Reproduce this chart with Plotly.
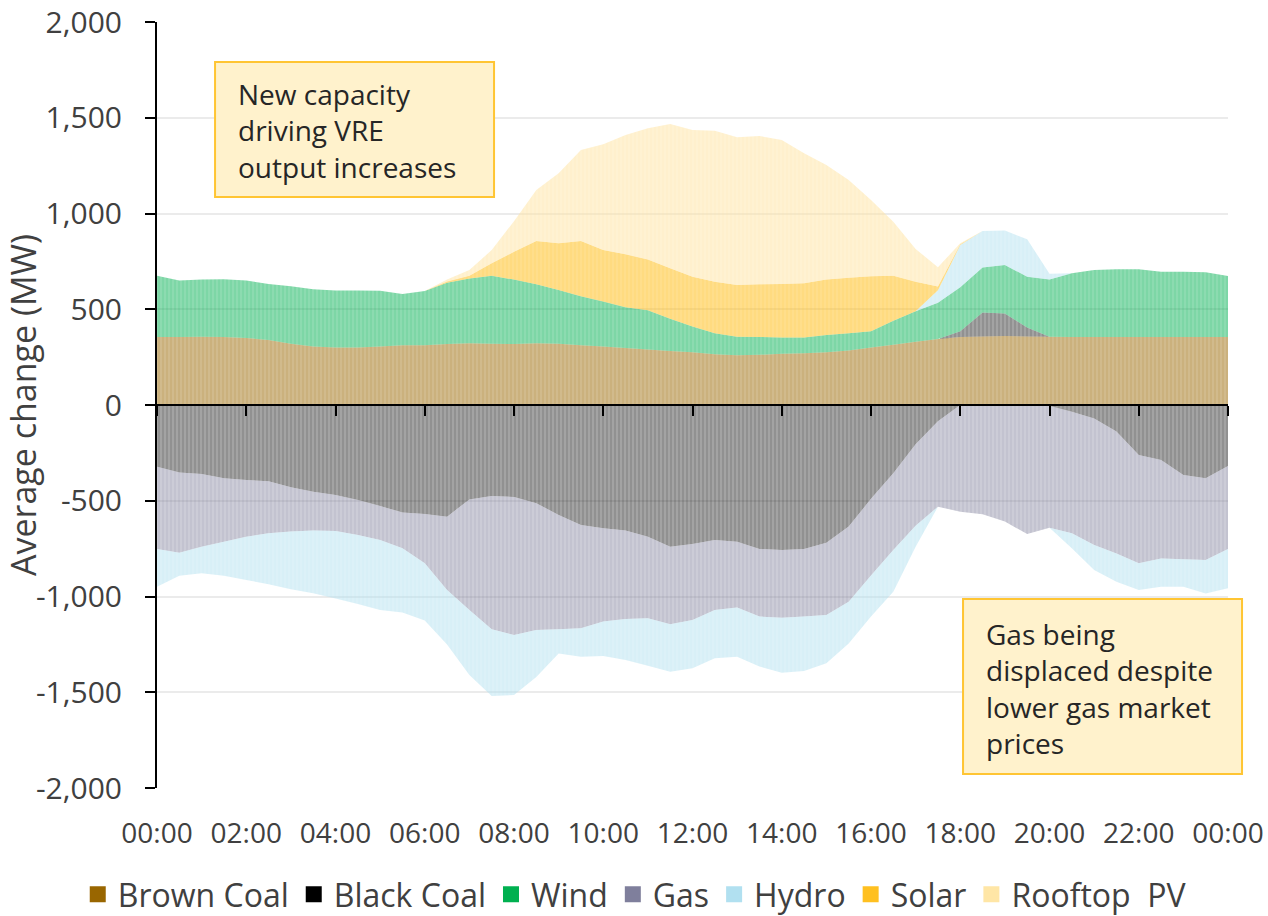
import numpy as np
import plotly.graph_objects as go

# ---- Data (half-hourly, 00:00 .. 24:00), MW average change ----
hours = [i * 0.5 for i in range(49)]
tick_hours = list(range(0, 25, 2))
tick_labels = ["00:00", "02:00", "04:00", "06:00", "08:00", "10:00", "12:00",
               "14:00", "16:00", "18:00", "20:00", "22:00", "00:00"]
y_ticks = [-2000, -1500, -1000, -500, 0, 500, 1000, 1500, 2000]

brown_coal = [355, 355, 357, 355, 350, 340, 320, 305, 300, 300, 305, 312, 312,
              318, 322, 320, 318, 322, 320, 312, 305, 298, 290, 282, 275,
              265, 260, 262, 268, 270, 275, 285, 300, 315, 330, 345, 355,
              358, 360, 358, 356, 355, 355, 355, 355, 355, 355, 355, 355]
black_coal = [-322, -353, -360, -383, -392, -398, -430, -453, -470, -496, -527, -562, -569,
              -583, -493, -475, -480, -513, -574, -627, -644, -656, -688, -740, -726,
              -705, -714, -752, -757, -752, -719, -635, -490, -357, -205, -85, 30,
              125, 118, 47, -5, -35, -70, -139, -261, -287, -366, -383, -319]
wind = [320, 295, 298, 302, 300, 292, 300, 300, 298, 298, 292, 268, 283,
        320, 338, 355, 337, 308, 280, 256, 235, 212, 205, 168, 135,
        110, 97, 93, 85, 82, 90, 90, 85, 125, 160, 189, 230,
        235, 253, 265, 300, 333, 350, 354, 354, 341, 341, 338, 319]
gas = [-430, -418, -380, -331, -296, -272, -231, -203, -188, -183, -178, -186, -258,
       -383, -577, -696, -721, -662, -597, -539, -487, -462, -426, -405, -397,
       -365, -344, -353, -354, -353, -378, -392, -400, -400, -425, -446, -557,
       -571, -609, -674, -636, -635, -661, -636, -566, -514, -440, -426, -433]
hydro = [-197, -120, -139, -177, -226, -266, -301, -327, -352, -360, -366, -335, -298,
         -284, -340, -349, -313, -245, -126, -148, -180, -214, -248, -248, -252,
         -253, -256, -261, -287, -284, -252, -218, -215, -218, -110, 65, 220,
         190, 180, 195, 30, -78, -131, -148, -139, -148, -143, -175, -205]
solar = [0, 0, 0, 0, 0, 0, 0, 0, 0, 0, 0, 0, 0,
         7, 15, 65, 145, 226, 244, 288, 269, 277, 265, 264, 260,
         269, 270, 275, 279, 284, 291, 290, 287, 235, 154, 20, 5,
         0, 0, 0, 0, 0, 0, 0, 0, 0, 0, 0, 0]
rooftop_pv = [0, 0, 0, 0, 0, 0, 0, 0, 0, 0, 0, 0, 0,
              10, 30, 69, 160, 267, 366, 476, 552, 623, 685, 753, 766,
              788, 771, 775, 752, 678, 597, 510, 399, 282, 171, 100, 5,
              0, 0, 0, 0, 0, 0, 0, 0, 0, 0, 0, 0]

names = ["Brown Coal", "Black Coal", "Wind", "Gas", "Hydro", "Solar", "Rooftop\u00a0 PV"]
values = [brown_coal, black_coal, wind, gas, hydro, solar, rooftop_pv]
colors = ["#996600", "#000000", "#00B050", "#7F7F9C", "#B1E0F0", "#FFC020", "#FFE6A6"]
alphas = [0.45, 0.36, 0.45, 0.40, 0.45, 0.52, 0.50]


def rgba(hex_color, a):
    h = hex_color.lstrip("#")
    r, g, b = int(h[0:2], 16), int(h[2:4], 16), int(h[4:6], 16)
    return f"rgba({r},{g},{b},{a})"


fig = go.Figure()

for group, sign in (("pos", 1), ("neg", -1)):
    for name, vals, col, a in zip(names, values, colors, alphas):
        arr = np.array(vals, dtype=float)
        part = np.clip(arr, 0, None) if sign > 0 else np.clip(arr, None, 0)
        if not np.any(part != 0):
            continue
        fig.add_trace(go.Scatter(
            x=hours, y=part, stackgroup=group, mode="none",
            fillcolor=rgba(col, a),
            fillpattern=dict(shape="|", size=4, solidity=0.3,
                             fgcolor=col, fgopacity=0.18, fillmode="overlay"),
            name=name, legendgroup=name, showlegend=False, hoverinfo="skip",
        ))

# legend entries (square swatches)
for name, col in zip(names, colors):
    fig.add_trace(go.Scatter(
        x=[None], y=[None], mode="markers", name=name, legendgroup=name,
        marker=dict(symbol="square", size=20, color=col),
    ))

# helper trace for the zero axis with tick marks
fig.add_trace(go.Scatter(x=[None], y=[None], xaxis="x2", showlegend=False))

font_family = "Open Sans, Noto Sans, DejaVu Sans, sans-serif"

fig.update_layout(
    width=1268, height=916,
    margin=dict(l=157, r=40, t=22, b=128, autoexpand=False),
    paper_bgcolor="white", plot_bgcolor="white",
    font=dict(family=font_family, color="#404040", size=28),
    showlegend=True,
    legend=dict(orientation="h", xref="paper", yref="paper",
                x=-0.074, xanchor="left", y=-0.103, yanchor="top",
                font=dict(size=32, color="#404040"),
                itemwidth=30, tracegroupgap=0),
    xaxis=dict(range=[0, 24], tickvals=tick_hours, ticktext=tick_labels,
               showgrid=False, zeroline=False, showline=False, ticks="",
               automargin=False, ticklabeloverflow="allow",
               ticklabelstandoff=26, tickfont=dict(size=28, color="#404040")),
    xaxis2=dict(range=[0, 24], overlaying="x", anchor="free", position=0.5,
                tickvals=tick_hours, showticklabels=False, ticks="outside",
                ticklen=10, tickwidth=2, tickcolor="black", automargin=False,
                showline=True, linecolor="black", linewidth=2,
                showgrid=False, zeroline=False, side="bottom"),
    yaxis=dict(range=[-2000, 2000], tickvals=y_ticks,
               ticktext=[f"{v:,}" for v in y_ticks],
               showgrid=True, gridcolor="#EBEBEB", gridwidth=2,
               zeroline=False, showline=True, linecolor="black", linewidth=2,
               ticks="outside", ticklen=10, tickwidth=2, tickcolor="black",
               ticklabelstandoff=17, automargin=False, ticklabeloverflow="allow",
               tickfont=dict(size=30, color="#404040"),
               title=dict(text="Average change (MW)", standoff=2,
                          font=dict(size=34, color="#404040"))),
)

# annotation boxes
box_fill = "#FFF2CC"
box_line = "#FFC533"
fig.add_shape(type="rect", xref="paper", yref="paper",
              x0=0.0542, x1=0.3147, y0=0.7715, y1=0.9478,
              fillcolor=box_fill, line=dict(color=box_line, width=2), layer="above")
fig.add_shape(type="rect", xref="paper", yref="paper",
              x0=0.7526, x1=1.0131, y0=0.0183, y1=0.2467,
              fillcolor=box_fill, line=dict(color=box_line, width=2), layer="above")
fig.add_annotation(xref="paper", yref="paper", x=0.0738, y=0.8584,
                   xanchor="left", yanchor="middle", align="left", showarrow=False,
                   text="New capacity<br>driving VRE<br>output increases",
                   font=dict(size=28, color="#262626"))
fig.add_annotation(xref="paper", yref="paper", x=0.7722, y=0.1299,
                   xanchor="left", yanchor="middle", align="left", showarrow=False,
                   text="Gas being<br>displaced despite<br>lower gas market<br>prices",
                   font=dict(size=28, color="#262626"))

fig.write_html("out.html",
               config={"displayModeBar": False},
               post_script="document.body.style.margin='0';"
                           "document.body.style.overflow='hidden';")
